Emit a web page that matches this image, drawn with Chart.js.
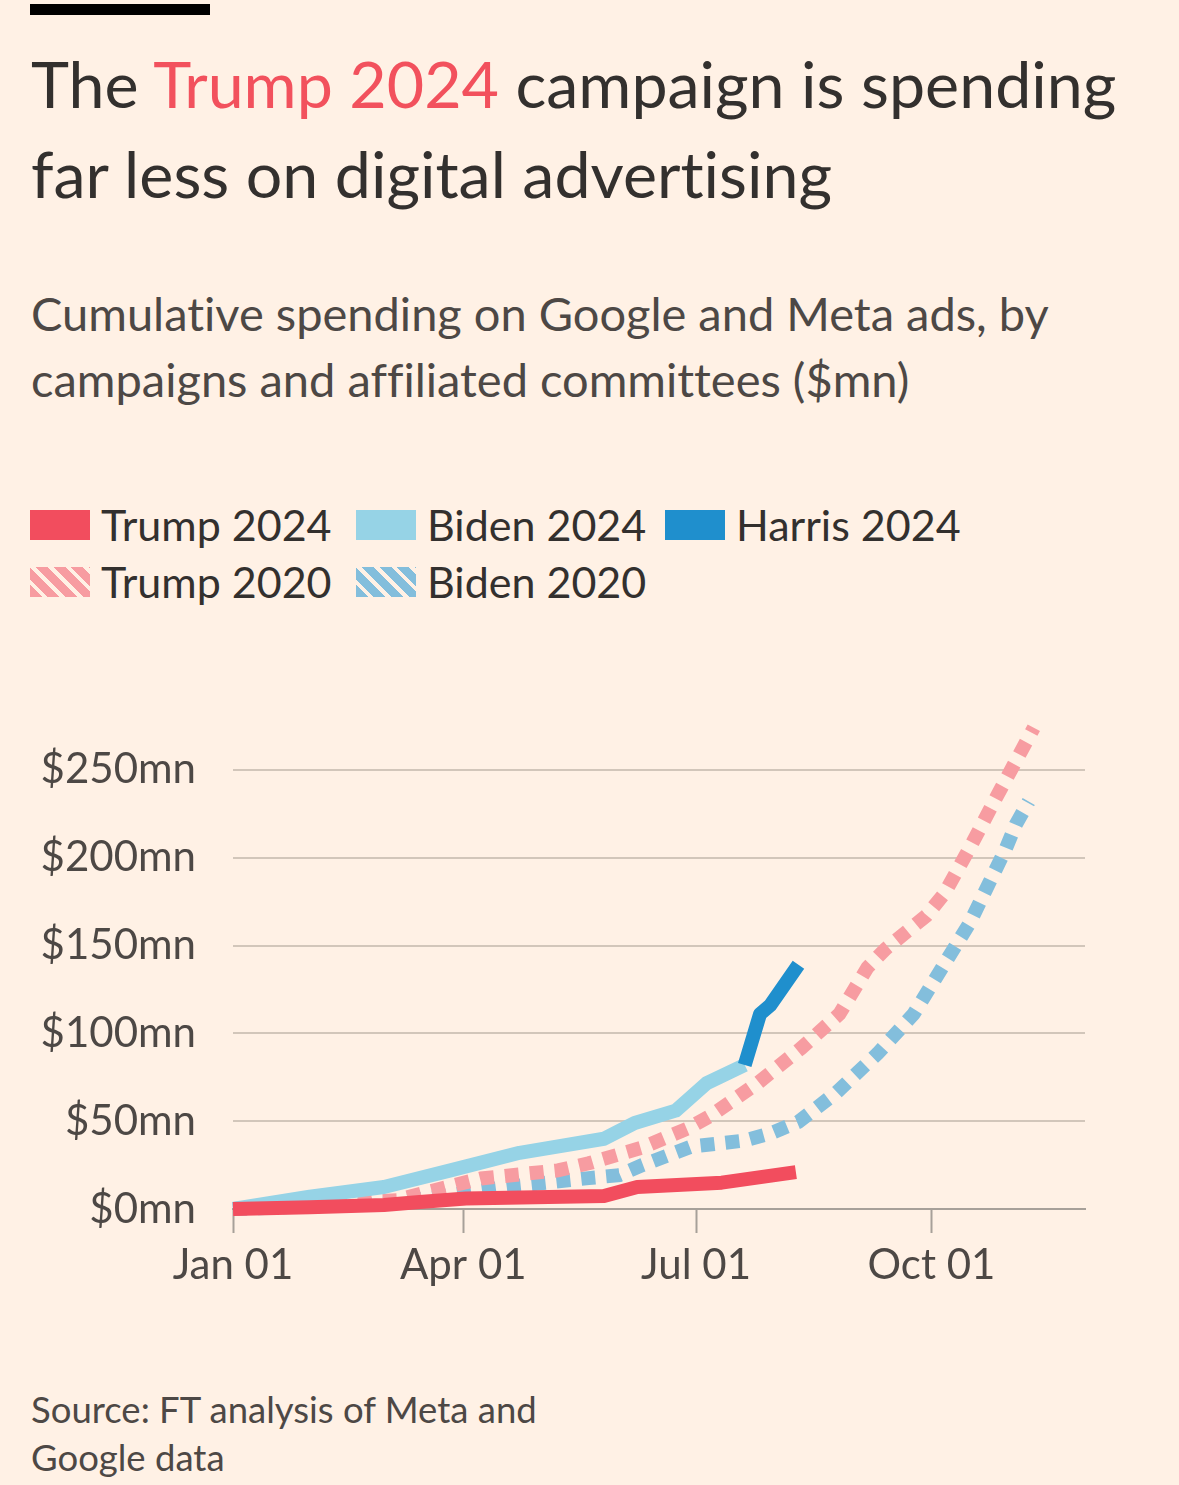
<!DOCTYPE html>
<html>
<head>
<meta charset="utf-8">
<script src="https://cdn.jsdelivr.net/npm/chart.js@4"></script>
<style>
  html, body { margin: 0; padding: 0; }
  body { width: 1179px; height: 1485px; background: #fff1e5; position: relative; overflow: hidden; font-family: Lato, "Noto Sans", sans-serif; color: #33302e; font-variant-ligatures: none; }
  .bar { position: absolute; left: 30px; top: 4px; width: 180px; height: 11px; background: #000; }
  .title { position: absolute; left: 31px; top: 38px; font-size: 64.5px; line-height: 90px; margin: 0; font-weight: 400; }
  .title span { color: #f2515d; }
  .sub { position: absolute; left: 31px; top: 280px; font-size: 47px; line-height: 66px; color: #4d4845; }
  .legend { position: absolute; left: 30px; top: 500px; font-size: 43px; color: #33302e; }
  .item { position: absolute; white-space: nowrap; line-height: 50px; }
  .sw { position: absolute; left: 0; top: 10px; width: 60px; height: 30px; }
  .item .lbl { position: absolute; left: 71px; top: 0; }
  .src { position: absolute; left: 31px; top: 1385px; font-size: 36.5px; line-height: 48px; color: #4d4845; }
  #wrap { position: absolute; left: 0; top: 655px; width: 1100px; height: 645px; }
</style>
</head>
<body>
<div class="bar"></div>
<h1 class="title">The <span>Trump 2024</span> campaign is spending<br>far less on digital advertising</h1>
<div class="sub">Cumulative spending on Google and Meta ads, by<br>campaigns and affiliated committees ($mn)</div>
<div class="legend" id="legend"></div>
<div id="wrap"><canvas id="chart" width="1100" height="645"></canvas></div>
<div class="src">Source: FT analysis of Meta and<br>Google data</div>
<script>
// day of year, 0 = Jan 01
const xTickDays = [0, 90, 181, 273];
const xTickLabels = ['Jan 01', 'Apr 01', 'Jul 01', 'Oct 01'];
const yTicks = [0, 50, 100, 150, 200, 250];

const trump24Days = [0, 30, 59, 73, 91, 145, 158, 191, 220];
const trump24Vals = [0, 1, 2.3, 4, 6, 7.4, 12.5, 15, 21];

const biden24Days = [0, 30, 59, 85, 112, 145, 157, 173, 185, 200];
const biden24Vals = [0, 7, 12.5, 22, 32, 40, 49, 56, 71.5, 82];

const harris24Days = [200, 206, 210, 221];
const harris24Vals = [82, 111, 116, 139];

const trump20Days = [0, 64, 76, 97, 127, 139, 160, 178, 187, 205, 222, 237, 248, 255, 271, 278, 288, 298, 313];
const trump20Vals = [0, 5, 9.7, 17.4, 22, 26, 35, 46, 53.4, 71.6, 91.5, 111, 137.5, 148, 167, 179.5, 205.7, 233.5, 274];

const biden20Days = [0, 60, 107, 139, 151, 160, 179, 200, 210, 221, 236, 252, 266, 277, 288, 297, 302, 306, 311];
const biden20Vals = [0, 3, 12.5, 17.6, 19.3, 25, 35.5, 39, 43, 49.6, 66.5, 88.6, 111, 137, 163, 190, 205, 219, 232];

const colors = {
    trump24: '#f24d5e',
    biden24: '#96d3e6',
    harris24: '#1f8fcd',
    trump20: '#f79ca1',
    biden20: '#83bedc'
};

const toPoints = (days, vals) => days.map((d, i) => ({ x: d, y: vals[i] }));

// legend, built in html
const legendItems = [
    { label: 'Trump 2024', color: colors.trump24, left: 0, top: 0 },
    { label: 'Biden 2024', color: colors.biden24, left: 326, top: 0 },
    { label: 'Harris 2024', color: colors.harris24, left: 635, top: 0 },
    { label: 'Trump 2020', color: colors.trump20, left: 0, top: 57, striped: true },
    { label: 'Biden 2020', color: colors.biden20, left: 326, top: 57, striped: true }
];
const legend = document.getElementById('legend');
legendItems.forEach(it => {
    const el = document.createElement('div');
    el.className = 'item';
    el.style.left = it.left + 'px';
    el.style.top = it.top + 'px';
    const bg = it.striped
        ? `repeating-linear-gradient(45deg, ${it.color} 0px, ${it.color} 8.5px, #fff1e5 8.5px, #fff1e5 12.5px)`
        : it.color;
    el.innerHTML = `<div class="sw" style="background:${bg}"></div><span class="lbl">${it.label}</span>`;
    legend.appendChild(el);
});

const lineStyle = (color, dotted) => ({
    borderColor: color,
    backgroundColor: color,
    borderWidth: 14,
    borderCapStyle: 'butt',
    borderJoinStyle: dotted ? 'miter' : 'round',
    borderDash: dotted ? [14, 11] : [],
    pointRadius: 0,
    tension: 0,
    fill: false,
    clip: false
});

const ctx = document.getElementById('chart').getContext('2d');
new Chart(ctx, {
    type: 'line',
    data: {
        datasets: [
            { label: 'Trump 2024', data: toPoints(trump24Days, trump24Vals), ...lineStyle(colors.trump24, false) },
            { label: 'Harris 2024', data: toPoints(harris24Days, harris24Vals), ...lineStyle(colors.harris24, false) },
            { label: 'Biden 2024', data: toPoints(biden24Days, biden24Vals), ...lineStyle(colors.biden24, false) },
            { label: 'Trump 2020', data: toPoints(trump20Days, trump20Vals), ...lineStyle(colors.trump20, true) },
            { label: 'Biden 2020', data: toPoints(biden20Days, biden20Vals), ...lineStyle(colors.biden20, true) }
        ]
    },
    options: {
        responsive: false,
        maintainAspectRatio: false,
        animation: false,
        events: [],
        layout: { padding: { top: 16, right: 15, left: 0, bottom: 0 } },
        plugins: { legend: { display: false }, tooltip: { enabled: false } },
        scales: {
            x: {
                type: 'linear',
                min: 0,
                max: 333,
                afterBuildTicks: axis => { axis.ticks = xTickDays.map(v => ({ value: v })); },
                afterFit: axis => { axis.height = 91; },
                grid: { drawOnChartArea: false, drawTicks: true, tickLength: 24, tickWidth: 2, color: '#a7a099' },
                border: { display: true, color: '#a7a099', width: 2 },
                ticks: {
                    padding: 7,
                    maxRotation: 0,
                    autoSkip: false,
                    color: '#4d4845',
                    font: { family: 'Lato', size: 42 },
                    callback: v => xTickLabels[xTickDays.indexOf(v)]
                }
            },
            y: {
                min: 0,
                max: 280,
                afterBuildTicks: axis => { axis.ticks = yTicks.map(v => ({ value: v })); },
                afterFit: axis => { axis.width = 233; },
                grid: {
                    drawTicks: false,
                    lineWidth: 2,
                    color: c => c.tick.value === 0 ? 'rgba(0,0,0,0)' : '#d2c6ba'
                },
                border: { display: false },
                ticks: {
                    padding: 37,
                    color: '#4d4845',
                    font: { family: 'Lato', size: 42 },
                    callback: v => '$' + v + 'mn'
                }
            }
        }
    }
});
</script>
</body>
</html>
